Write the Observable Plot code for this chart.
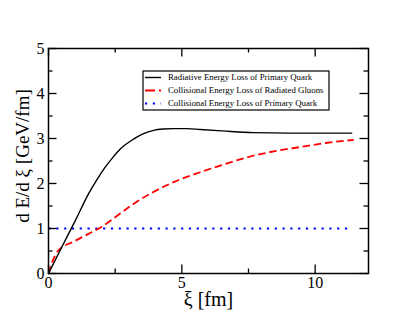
<!DOCTYPE html>
<html><head><meta charset="utf-8">
<script src="https://cdn.jsdelivr.net/npm/d3@7"></script>
<script src="https://cdn.jsdelivr.net/npm/@observablehq/plot@0.6"></script>
<style>body{margin:0;background:#fff}</style>
</head><body><div id="chart"></div>
<script>
// Radiative energy loss of primary quark (black solid)
const radX = [0, 0.5, 1.0, 1.5, 1.8, 2.1, 2.4, 2.7, 3.2, 3.5, 3.94, 4.3, 4.69, 5.2, 5.69, 6.5, 7.69, 9.0, 10.0, 11.37];
const radY = [0, 0.59, 1.17, 1.77, 2.07, 2.34, 2.57, 2.77, 2.99, 3.09, 3.18, 3.21, 3.22, 3.22, 3.2, 3.17, 3.13, 3.12, 3.12, 3.12];
// Collisional energy loss of radiated gluons (red dashed)
const gluX = [0, 0.12, 0.35, 0.95, 1.5, 2.0, 2.5, 3.2, 3.9, 4.69, 5.69, 6.5, 7.57, 8.5, 9.44, 10.4, 11.45];
const gluY = [0, 0.22, 0.5, 0.71, 0.88, 1.04, 1.25, 1.55, 1.8, 2.03, 2.25, 2.41, 2.6, 2.72, 2.81, 2.9, 2.97];
// Collisional energy loss of primary quark (blue dotted)
const colX = [0, 11.3];
const colY = [1, 1];

const xMajor = [0, 5, 10];
const xMinor = [2.5, 7.5];
const yMajor = [0, 1, 2, 3, 4, 5];
const yMinor = [0.5, 1.5, 2.5, 3.5, 4.5];

const legendLabels = [
  "Radiative Energy Loss of Primary Quark",
  "Collisional Energy Loss of Radiated Gluons",
  "Collisional Energy Loss of Primary Quark"
];
const xLabel = "ξ [fm]";
const yLabel = "d E/d ξ [GeV/fm]";

const toPts = (xs, ys) => xs.map((x, i) => ({x, y: ys[i]}));
const font = "'Liberation Serif', 'Times New Roman', serif";

const chart = Plot.plot({
  width: 415, height: 321,
  marginLeft: 48, marginRight: 47, marginTop: 48, marginBottom: 48,
  style: {fontFamily: font, background: "#fff", color: "#000"},
  x: {domain: [0, 12]},
  y: {domain: [0, 5]},
  marks: [
    Plot.line(toPts(colX, colY), {x: "x", y: "y", stroke: "#0000ff", strokeWidth: 2.2, strokeDasharray: "2.2,5.6", strokeLinecap: "butt"}),
    Plot.line(toPts(gluX, gluY), {x: "x", y: "y", stroke: "#ff0000", strokeWidth: 1.8, strokeDasharray: "7.5,3.8", strokeLinecap: "butt", curve: "monotone-x"}),
    Plot.line(toPts(radX, radY), {x: "x", y: "y", stroke: "#000", strokeWidth: 1.4, curve: "monotone-x"}),
    // inward ticks: bottom / top
    Plot.ruleX(xMajor, {x: d => d, y1: 0, y2: 0, insetBottom: 8.5, stroke: "#000", strokeWidth: 1.3}),
    Plot.ruleX(xMinor, {x: d => d, y1: 0, y2: 0, insetBottom: 4.5, stroke: "#000", strokeWidth: 1.3}),
    Plot.ruleX(xMajor, {x: d => d, y1: 5, y2: 5, insetBottom: -8.5, stroke: "#000", strokeWidth: 1.3}),
    Plot.ruleX(xMinor, {x: d => d, y1: 5, y2: 5, insetBottom: -4.5, stroke: "#000", strokeWidth: 1.3}),
    // inward ticks: left / right
    Plot.ruleY(yMajor, {y: d => d, x1: 0, x2: 0, insetRight: -8.5, stroke: "#000", strokeWidth: 1.3}),
    Plot.ruleY(yMinor, {y: d => d, x1: 0, x2: 0, insetRight: -4.5, stroke: "#000", strokeWidth: 1.3}),
    Plot.ruleY(yMajor, {y: d => d, x1: 12, x2: 12, insetLeft: -8.5, stroke: "#000", strokeWidth: 1.3}),
    Plot.ruleY(yMinor, {y: d => d, x1: 12, x2: 12, insetLeft: -4.5, stroke: "#000", strokeWidth: 1.3}),
    Plot.frame({stroke: "#000", strokeWidth: 1.5}),
    Plot.axisX(xMajor, {tickSize: 0, tickPadding: 3, fontSize: 16, label: null, fill: "#000"}),
    Plot.axisY(yMajor, {tickSize: 0, tickPadding: 4, fontSize: 16, label: null, fill: "#000"}),
    Plot.text([xLabel], {text: d => d, frameAnchor: "bottom", lineAnchor: "middle", dy: 26, fontSize: 20, fill: "#000"}),
    Plot.text([yLabel], {text: d => d, frameAnchor: "left", rotate: -90, textAnchor: "middle", lineAnchor: "middle", dx: -26, dy: -5, fontSize: 19, fill: "#000"})
  ]
});
document.getElementById("chart").appendChild(chart);

// Legend box (not data) drawn on top of the plot
const svg = d3.select(chart);
const lg = svg.append("g").attr("font-family", font).attr("font-size", 8.8).attr("text-anchor", "start");
lg.append("rect").attr("x", 143).attr("y", 71).attr("width", 186).attr("height", 39)
  .attr("fill", "#fff").attr("stroke", "#000").attr("stroke-width", 1.2);
const styles = [
  {stroke: "#000", dash: null, w: 1.4},
  {stroke: "#ff0000", dash: "10,4", w: 1.8},
  {stroke: "#0000ff", dash: "2.2,5.6", w: 2.2}
];
legendLabels.forEach((t, i) => {
  const y = 77.5 + i * 13;
  const l = lg.append("line").attr("x1", 145).attr("x2", 161).attr("y1", y).attr("y2", y)
    .attr("stroke", styles[i].stroke).attr("stroke-width", styles[i].w).attr("stroke-linecap", "butt");
  if (styles[i].dash) l.attr("stroke-dasharray", styles[i].dash);
  lg.append("text").attr("x", 168).attr("y", y).attr("dy", "0.32em").attr("fill", "#000").text(t);
});
</script>
</body></html>
